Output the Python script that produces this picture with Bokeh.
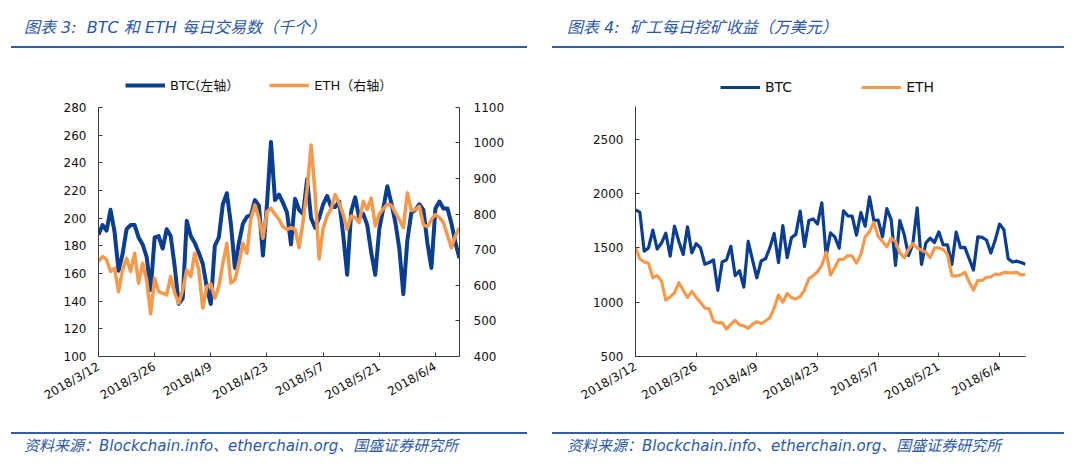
from bokeh.plotting import figure
from bokeh.models import Range1d, LinearAxis, FixedTicker, Legend, LegendItem, Div
from bokeh.layouts import row, column
from bokeh.embed import file_html
from bokeh.resources import INLINE

# ---------------- data ----------------
DATE_LABELS = ["2018/3/12", "2018/3/26", "2018/4/9", "2018/4/23", "2018/5/7", "2018/5/21", "2018/6/4"]
DAYS_PER_LABEL = 14

# 图表3: 每日交易数 (千个)
btc_tx = [188, 195, 191, 206, 190, 162, 174, 192, 195, 195,
          186, 181, 172, 148, 186, 187, 178, 192, 187, 165,
          138, 142, 198, 187, 182, 175, 167, 150, 138, 180,
          186, 210, 218, 196, 164, 182, 196, 201, 202, 213,
          209, 173, 210, 255, 213, 217, 211, 204, 181, 214,
          206, 203, 228, 200, 193, 200, 210, 216, 208, 208,
          212, 188, 159, 205, 215, 200, 203, 195, 175, 159,
          192, 207, 223, 211, 197, 178, 145, 184, 204, 206,
          210, 206, 182, 164, 207, 212, 207, 207, 196, 182,
          171]
eth_tx = [667, 681, 673, 639, 648, 582, 643, 676, 639, 690,
          606, 662, 615, 520, 620, 582, 578, 573, 625, 578,
          550, 587, 643, 625, 690, 643, 536, 597, 604, 564,
          597, 662, 718, 606, 615, 662, 718, 690, 788, 826,
          788, 732, 807, 816, 800, 785, 765, 757, 762, 758,
          706, 780, 868, 994, 860, 674, 760, 795, 815, 855,
          830, 800, 757, 795, 790, 776, 836, 813, 845, 767,
          800, 815, 828, 825, 805, 785, 762, 860, 810, 813,
          822, 770, 765, 785, 799, 790, 776, 740, 706, 740,
          762]

# 图表4: 矿工每日挖矿收益 (万美元)
btc_rev = [1850, 1830, 1470, 1500, 1665, 1490, 1545, 1635, 1425, 1700,
           1560, 1440, 1694, 1455, 1540, 1500, 1350, 1365, 1390, 1110,
           1370, 1390, 1515, 1245, 1290, 1140, 1560, 1389, 1225, 1380,
           1400, 1500, 1634, 1365, 1705, 1410, 1595, 1625, 1840, 1513,
           1752, 1767, 1720, 1916, 1425, 1638, 1602, 1497, 1841, 1796,
           1793, 1617, 1826, 1700, 1970, 1752, 1757, 1602, 1862, 1760,
           1340, 1752, 1625, 1430, 1535, 1870, 1348, 1545, 1590, 1550,
           1648, 1528, 1528, 1348, 1645, 1503, 1505, 1400, 1296, 1603,
           1598, 1573, 1453, 1570, 1720, 1670, 1400, 1370, 1378, 1365,
           1350]
eth_rev = [1505, 1400, 1370, 1360, 1225, 1245, 1195, 1020, 1050, 1085,
           1180, 1110, 1045, 1100, 1045, 1000, 946, 940, 825, 810,
           812, 752, 797, 833, 790, 782, 760, 797, 820, 803,
           827, 857, 946, 1066, 1000, 1081, 1042, 1030, 1051, 1111,
           1216, 1245, 1281, 1340, 1460, 1250, 1320, 1395, 1395, 1430,
           1425, 1360, 1440, 1600, 1650, 1735, 1605, 1560, 1510, 1590,
           1560, 1455, 1410, 1485, 1540, 1500, 1480, 1460, 1410, 1500,
           1500, 1485, 1440, 1245, 1240, 1250, 1275, 1186, 1111, 1201,
           1200, 1230, 1232, 1260, 1255, 1275, 1272, 1270, 1275, 1250,
           1258]

left_ticks = [100, 120, 140, 160, 180, 200, 220, 240, 260, 280]
right_ticks = [400, 500, 600, 700, 800, 900, 1000, 1100]
rev_ticks = [500, 1000, 1500, 2000, 2500]
rev_max = 2800

title3 = "图表 3:&nbsp; BTC 和 ETH 每日交易数（千个）"
title4 = "图表 4:&nbsp; 矿工每日挖矿收益（万美元）"
source = "资料来源：Blockchain.info、etherchain.org、国盛证券研究所"
leg3 = ["BTC(左轴）", "ETH（右轴）"]
leg4 = ["BTC", "ETH"]

# ---------------- style ----------------
BLUE = "#0B3D91"
ORANGE = "#F5994C"
TXT_BLUE = "#2A58A8"
RULE = "#2F5CA8"
AX = "#3a3a3a"
FONT = "DejaVu Sans"
MIXED = "DejaVu Sans, Noto Sans CJK SC"
CSS_FONT = "'DejaVu Sans','Noto Sans CJK SC'"

HALF_W = 540
TOP_H = 50
FIG_H = 365
FOOT_H = 50
FRAME_TOP_EXTRA = 29   # px of frame above the plotted axis range (room for legend)

x = list(range(len(btc_tx)))
tick_pos = [i * DAYS_PER_LABEL for i in range(len(DATE_LABELS))]
overrides = {t: lab for t, lab in zip(tick_pos, DATE_LABELS)}


def style_axis(ax):
    ax.axis_line_color = AX
    ax.axis_line_width = 1
    ax.major_tick_in = 4
    ax.major_tick_out = 0
    ax.major_tick_line_color = AX
    ax.minor_tick_line_color = None
    ax.major_label_text_font = FONT
    ax.major_label_text_font_size = "12px"
    ax.major_label_text_color = "#111111"


def ext(lo, hi, plot_px, extra_px):
    return hi + (hi - lo) * extra_px / plot_px


def base_fig(ylo, yhi, plot_px, mb_left, mb_right, mb_top, mb_bottom):
    p = figure(width=HALF_W, height=FIG_H, x_range=Range1d(0, len(x) - 1),
               y_range=Range1d(ylo, ext(ylo, yhi, plot_px, FRAME_TOP_EXTRA)),
               output_backend="svg", toolbar_location=None, margin=0,
               min_border_left=mb_left, min_border_right=mb_right,
               min_border_top=mb_top, min_border_bottom=mb_bottom)
    p.outline_line_color = None
    p.xgrid.visible = False
    p.ygrid.visible = False
    p.xaxis.ticker = FixedTicker(ticks=tick_pos)
    p.xaxis.major_label_overrides = overrides
    p.xaxis.major_label_orientation = 0.5236
    p.xaxis.major_label_standoff = 9
    p.yaxis.major_label_standoff = 12
    p.yaxis.bounds = (ylo, yhi)
    style_axis(p.xaxis[0])
    style_axis(p.yaxis[0])
    return p


def title_div(text, text_left, rule_left, rule_w):
    html = (f'<div style="position:relative;width:{HALF_W}px;height:{TOP_H}px;">'
            f'<div style="position:absolute;left:{text_left}px;top:18px;line-height:20px;white-space:nowrap;'
            f'font-family:{CSS_FONT};font-style:italic;font-size:16px;color:{TXT_BLUE};">{text}</div>'
            f'<div style="position:absolute;left:{rule_left}px;top:46px;width:{rule_w}px;height:2px;'
            f'background:{RULE};"></div></div>')
    return Div(text=html, width=HALF_W, height=TOP_H, margin=0)


def foot_div(text, text_left, rule_left, rule_w):
    html = (f'<div style="position:relative;width:{HALF_W}px;height:{FOOT_H}px;">'
            f'<div style="position:absolute;left:{rule_left}px;top:17px;width:{rule_w}px;height:2px;'
            f'background:{RULE};"></div>'
            f'<div style="position:absolute;left:{text_left}px;top:22px;line-height:18px;white-space:nowrap;'
            f'font-family:{CSS_FONT};font-style:italic;font-size:15px;color:{TXT_BLUE};">{text}</div></div>')
    return Div(text=html, width=HALF_W, height=FOOT_H, margin=0)


# ---------------- chart 3 ----------------
p1 = base_fig(left_ticks[0], left_ticks[-1], 250, 98, 81, 28, 58)
p1.yaxis.ticker = FixedTicker(ticks=left_ticks)
p1.extra_y_ranges = {"eth": Range1d(right_ticks[0], ext(right_ticks[0], right_ticks[-1], 250, FRAME_TOP_EXTRA))}
ax_r = LinearAxis(y_range_name="eth", ticker=FixedTicker(ticks=right_ticks),
                  bounds=(right_ticks[0], right_ticks[-1]))
style_axis(ax_r)
ax_r.major_label_standoff = 14
p1.add_layout(ax_r, "right")

r1 = p1.line(x, btc_tx, line_color=BLUE, line_width=4, line_join="round")
r2 = p1.line(x, eth_tx, y_range_name="eth", line_color=ORANGE, line_width=3.5, line_join="round")

lg1 = Legend(items=[LegendItem(label=leg3[0], renderers=[r1]), LegendItem(label=leg3[1], renderers=[r2])],
             location=(27, 262), orientation="horizontal", glyph_width=40, glyph_height=14,
             label_height=14, label_standoff=5, spacing=30, padding=0, margin=0,
             border_line_color=None, background_fill_alpha=0,
             label_text_font=MIXED, label_text_font_size="13px", label_text_color="#111111")
p1.add_layout(lg1)

# ---------------- chart 4 ----------------
p2 = base_fig(rev_ticks[0], rev_max, 256, 95, 55, 28, 59)
p2.yaxis.ticker = FixedTicker(ticks=rev_ticks)
r3 = p2.line(x, btc_rev, line_color=BLUE, line_width=3.2, line_join="round")
r4 = p2.line(x, eth_rev, line_color=ORANGE, line_width=3.2, line_join="round")
lg2 = Legend(items=[LegendItem(label=leg4[0], renderers=[r3]), LegendItem(label=leg4[1], renderers=[r4])],
             location=(85, 261), orientation="horizontal", glyph_width=40, glyph_height=14,
             label_height=14, label_standoff=5, spacing=69, padding=0, margin=0,
             border_line_color=None, background_fill_alpha=0,
             label_text_font=MIXED, label_text_font_size="14px", label_text_color="#111111")
p2.add_layout(lg2)

layout = column(
    row(title_div(title3, 24, 11, 516), title_div(title4, 27, 12, 512), spacing=0),
    row(p1, p2, spacing=0),
    row(foot_div(source, 24, 11, 516), foot_div(source, 27, 12, 512), spacing=0),
    spacing=0,
)
open("out.html", "w").write(file_html(layout, INLINE))
